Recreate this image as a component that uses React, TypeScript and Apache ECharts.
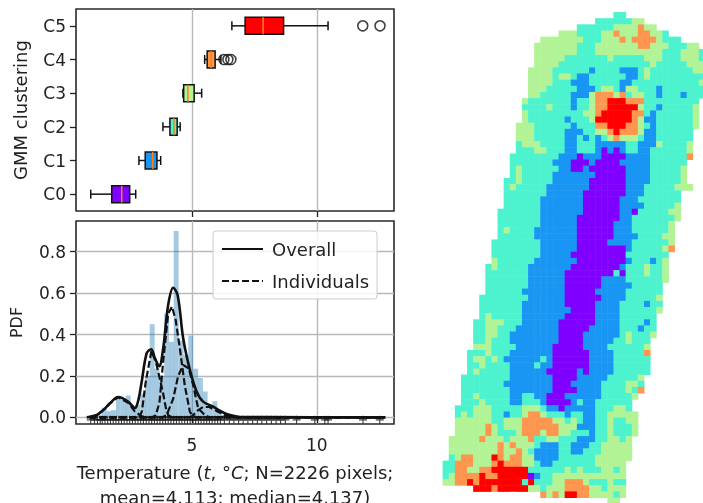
import React, { useEffect, useRef } from "react";
import * as echarts from "echarts";

const FONT = "DejaVu Sans";
const clusters = ["C0", "C1", "C2", "C3", "C4", "C5"];
const clusterColors = ["#8000ff", "#1996f3", "#4df3ce", "#b2f396", "#ff964f", "#ff0000"];
// cluster, low whisker, q1, median, q3, high whisker
const boxStats = [
  [0, 0.95, 1.79, 2.19, 2.51, 2.75],
  [1, 2.88, 3.13, 3.43, 3.6, 3.75],
  [2, 3.84, 4.12, 4.28, 4.41, 4.53],
  [3, 4.64, 4.67, 4.84, 5.09, 5.39],
  [4, 5.51, 5.61, 5.77, 5.93, 6.16],
  [5, 6.6, 7.13, 7.85, 8.67, 10.45],
];
const outliers = [[6.28, 4], [6.44, 4], [6.56, 4], [11.84, 5], [12.53, 5]];
const xTicks = [5, 10];
const yTicks = [0, 0.2, 0.4, 0.6, 0.8];
const histBars = [
  [1.1, 0.005], [1.3, 0.01], [1.49, 0.047], [1.68, 0.03], [1.87, 0.035], [2.06, 0.09], [2.26, 0.085],
  [2.45, 0.105], [2.64, 0.045], [2.83, 0.06], [3.03, 0.115], [3.22, 0.2], [3.41, 0.45], [3.6, 0.235],
  [3.8, 0.2], [3.99, 0.5], [4.18, 0.365], [4.37, 0.9], [4.57, 0.37], [4.76, 0.3], [4.95, 0.395],
  [5.15, 0.235], [5.34, 0.19], [5.53, 0.125], [5.72, 0.05], [5.92, 0.078], [6.11, 0.03], [6.3, 0.012],
];
const overall = [
  [0.79, 0], [0.92, 0.003], [1.19, 0.011], [1.45, 0.035], [1.72, 0.068], [2.05, 0.098], [2.45, 0.076],
  [2.72, 0.045], [2.85, 0.08], [2.99, 0.172], [3.19, 0.31], [3.37, 0.329], [3.52, 0.285], [3.69, 0.247],
  [3.85, 0.333], [4.05, 0.543], [4.25, 0.626], [4.43, 0.59], [4.65, 0.382], [4.92, 0.229], [5.19, 0.124],
  [5.45, 0.076], [5.85, 0.052], [6.19, 0.027], [6.52, 0.011], [6.92, 0.002], [8, 0.001], [12.75, 0],
];
const individuals = [
  [[0.95, 0.003], [1.2, 0.012], [1.45, 0.035], [1.72, 0.068], [2.05, 0.098], [2.45, 0.07], [2.72, 0.028], [3.0, 0.005], [3.2, 0], [12.7, 0]],
  [[0.9, 0], [2.8, 0], [2.9, 0.003], [3.0, 0.03], [3.15, 0.17], [3.38, 0.32], [3.55, 0.27], [3.69, 0.2], [3.84, 0.12], [3.95, 0.05], [4.05, 0.01], [4.2, 0], [12.7, 0]],
  [[0.9, 0], [3.4, 0], [3.55, 0.01], [3.7, 0.07], [3.85, 0.27], [4.05, 0.5], [4.2, 0.535], [4.35, 0.47], [4.52, 0.33], [4.72, 0.15], [4.92, 0.027], [5.05, 0.005], [5.2, 0], [12.7, 0]],
  [[0.9, 0], [3.8, 0], [3.99, 0.011], [4.25, 0.09], [4.45, 0.2], [4.65, 0.253], [4.87, 0.237], [5.05, 0.156], [5.25, 0.043], [5.52, 0.011], [5.7, 0], [12.7, 0]],
  [[0.9, 0], [4.9, 0], [5.0, 0.005], [5.25, 0.035], [5.45, 0.05], [5.7, 0.05], [6.0, 0.03], [6.3, 0.012], [6.6, 0.002], [6.9, 0], [12.7, 0]],
];
const rugValues = [
  0.95, 1.1, 1.22, 1.33, 1.41, 1.52, 1.63, 1.74, 1.85, 1.96, 2.07, 2.18, 2.29, 2.4, 2.51, 2.62, 2.73, 2.84, 2.95,
  3.06, 3.17, 3.28, 3.39, 3.5, 3.61, 3.72, 3.83, 3.94, 4.05, 4.16, 4.27, 4.38, 4.49, 4.6, 4.71, 4.82, 4.93, 5.04,
  5.15, 5.26, 5.37, 5.48, 5.59, 5.7, 5.81, 5.92, 6.03, 6.14, 6.3, 6.5, 6.68, 6.87, 7.05, 7.24, 7.43, 7.62, 7.8,
  7.99, 8.18, 8.37, 8.55, 8.74, 9.19, 9.92, 10.32, 10.45, 11.85, 12.52,
];
const legendNames = ["Overall", "Individuals"];
const mapCodes = "PBTGOR";
// Each row: first column, then <cluster letter><end column, exclusive>
const mapRows = [
  "28 T30", "25 T31 G33", "22 T28 G32 O33 G35", "19 G22 T26 G28 O29 G32 O34 G36 T37",
  "16 G23 T26 G29 O30 G31 O35 G36 T39", "15 G22 T25 G32 O34 G37 T40 G42",
  "15 G22 T25 G36 T39 G42 T43", "15 G20 T27 G28 T33 G36 T39 G42 T43", "15 G19 T34 G35 T40 G43",
  "14 G18 T24 B25 T29 B32 T33 G34 T41 G43", "14 G18 T19 G21 T22 B24 T30 B32 T33 G34 T43",
  "14 G18 T21 B24 T29 B31 T42 G43", "14 G17 T22 B25 T26 G28 T29 B30 G32 T35 B36 T43",
  "14 G16 T21 B24 G25 O28 G29 O30 T31 G33 T35 B36 T39 B40 T43", "13 G14 T21 B22 T24 G25 O27 R30 O33 T42",
  "13 T17 G18 T21 B22 T24 G25 O27 R32 G33 T35 B36 T41 G42", "13 G14 T23 G25 O26 R31 O33 T34 B35 T41 G42",
  "13 G14 T20 B21 T24 G25 R31 O32 G33 B35 T41 G42", "12 G15 T21 B22 T25 O27 R30 O32 G33 T34 B35 T41 G42",
  "12 G15 T20 B23 T25 G27 O28 R29 O32 G33 B35 T41", "12 G15 T20 B22 T23 B24 T25 B26 T27 G28 O29 G32 T33 B35 T41",
  "12 T13 G16 T20 B22 T25 B30 T32 B35 G36 T40 G41", "12 T15 G17 T20 B22 T25 B26 P27 B28 P29 B30 T32 B34 T40 G41",
  "11 T19 B22 P23 B26 P30 B34 T40 O41", "11 T18 B21 P24 B25 P29 B34 T40",
  "11 T12 G13 T19 B21 P23 B24 P30 B34 T39 G40", "11 T12 G13 T18 B25 P30 B34 T39 G40",
  "10 T12 G13 T18 B24 P30 B34 T39 G40", "10 T11 G12 T17 B24 P30 B33 T38 G41", "10 T17 B23 P30 B33 T39",
  "10 T16 B23 P29 B32 T39", "10 T16 B23 P29 B33 T38 G39", "9 T16 B23 P29 B31 P32 T37 G39",
  "9 T16 B22 P29 B31 T38 G39", "9 T16 B22 P28 B31 T37 G38", "9 T10 G11 T15 B22 P28 B31 T37 G38",
  "9 T15 B22 P28 B32 T36 G38", "8 T16 B22 P27 B31 T37 G38", "8 T16 B22 P30 B31 T36 G37 O38",
  "8 T16 B21 P30 T37", "8 G9 T15 B22 P30 B31 T34 B35 T36 G37", "7 T8 G9 T14 B21 P29 B30 T33 G34 T36 G37",
  "7 T14 B20 P28 T29 P30 T33 G34 T36 G37", "7 T14 B20 P26 B30 T36 G37", "7 T14 B20 P26 B31 T36",
  "7 T13 B20 P25 B30 T36", "6 T14 B20 P26 B30 T35 G36", "6 T13 B20 P25 B29 T33 B34 T36",
  "6 T13 B21 P25 B29 T35 G36", "6 T7 G8 T13 B20 P25 B29 T35", "5 T7 G10 T13 B19 P25 B29 T33 B34 T35",
  "5 T7 G9 T12 B19 P24 B29 T32 B33 T35", "5 T7 G9 T11 B19 P23 B29 T30 G31 T34 G35",
  "5 T7 G8 T11 B19 P23 B28 T30 G31 T34", "5 G8 T12 B18 P23 B27 T33 G34", "4 T7 G8 T11 B18 P24 B28 T33 O34",
  "4 T5 G7 T8 G9 T10 B16 T17 B18 P24 B28 T34", "4 T6 G7 T11 B15 T16 B18 P24 B28 T34",
  "4 T5 G6 T11 B17 P22 B23 P24 B28 T34", "3 T11 B18 P22 B27 T32 G33", "3 T10 B18 P21 B26 T30 G32 T33",
  "3 T11 B18 P22 B26 T30 G31 T32 O33", "3 T5 G6 T11 B13 T15 B17 P20 B26 T31 G32",
  "3 T6 G7 T11 B13 T16 B17 P21 B22 T23 B25 T31", "2 T5 G8 T13 G16 T17 B19 P20 B25 T28 G30 T31",
  "2 T3 G4 T5 G8 T10 B11 T13 G14 O16 G17 T20 B21 T23 B25 T27 G32",
  "2 G8 T10 G13 O18 G20 T21 G22 T23 B25 T27 G28 T30 G32", "2 G7 O8 G9 T10 G13 O19 G22 B25 T27 G28 T31 G32",
  "2 G7 O8 G9 T12 G13 O16 G17 O19 G21 T24 B25 T27 G28 T31 G32", "1 G6 O7 G10 T11 G14 O15 T17 G19 T22 B25 T27 G29 T30 G31",
  "1 G9 O10 G11 O12 G15 T16 B19 T21 B24 T26 G31", "1 G9 O10 G12 O13 G14 T15 B19 T21 B23 T26 G31",
  "1 T2 G3 O5 G8 R9 O10 G11 O13 G15 B19 T25 G31", "0 T2 O5 G8 O9 R10 O13 G15 T16 B18 T25 G30",
  "0 T2 O4 G6 O8 R14 T20 G21 T22 G23 T26 G28 T29 G30", "0 T1 G2 O6 R7 O9 R14 P15 B16 T18 G30",
  "0 G2 O4 R5 O6 R13 T14 R15 T18 G20 O23 G24 T27 G28 T30", "5 R8 O9 R14 G16 T17 G20 O24 G26 T27 G30",
  "16 O17 G18 O19 G20 R22 O24 G28 T29 G30", "27 G29",
];
const mapColumnCount = 43;

function decodeMap() {
  const cells: number[][] = [];
  mapRows.forEach((row, r) => {
    const parts = row.split(" ");
    let c = Number(parts[0]);
    parts.slice(1).forEach((p) => {
      const end = Number(p.slice(1));
      const code = mapCodes.indexOf(p[0]);
      for (; c < end; c++) cells.push([c, r, code]);
    });
  });
  return cells;
}

const INK = "#222222";
const GRID = "#b9b9b9";

function renderBox(_: any, api: any) {
  const cat = api.value(0);
  const color = clusterColors[cat];
  const pt = (v: number) => api.coord([v, cat]);
  const [xLo, y] = pt(api.value(1));
  const xQ1 = pt(api.value(2))[0];
  const xMed = pt(api.value(3))[0];
  const xQ3 = pt(api.value(4))[0];
  const xHi = pt(api.value(5))[0];
  const stroke = { stroke: "#111", lineWidth: 1.5, fill: "none" };
  const line = (x1: number, y1: number, x2: number, y2: number, style: any = stroke) => ({
    type: "line", shape: { x1, y1, x2, y2 }, style,
  });
  return {
    type: "group",
    children: [
      line(xLo, y, xQ1, y),
      line(xQ3, y, xHi, y),
      line(xLo, y - 4.5, xLo, y + 4.5),
      line(xHi, y - 4.5, xHi, y + 4.5),
      { type: "rect", shape: { x: xQ1, y: y - 8.5, width: xQ3 - xQ1, height: 17 }, style: { fill: color, stroke: "#111", lineWidth: 1.5 } },
      line(xMed, y - 8.5, xMed, y + 8.5, { stroke: "#ff7f0e", lineWidth: 1.5, fill: "none" }),
    ],
  };
}

const valueX = (gridIndex: number, labels: boolean) => ({
  type: "value", gridIndex, min: 0.36, max: 13.09,
  axisLine: { show: false },
  axisTick: { show: true, customValues: xTicks, length: 6, lineStyle: { color: INK, width: 1.3 } },
  axisLabel: { show: labels, customValues: xTicks, color: INK, fontSize: 17, fontFamily: FONT, margin: 12 },
  splitLine: { show: true, lineStyle: { color: GRID, width: 1.4 } },
});

export default function App() {
  const ref = useRef<HTMLDivElement>(null);
  useEffect(() => {
    const chart = echarts.init(ref.current!, undefined, { renderer: "svg" });
    const frame = { show: true, borderColor: "#2a2a2a", borderWidth: 1.6, backgroundColor: "transparent", outerBoundsMode: "none" };
    const option: any = {
      animation: false,
      textStyle: { fontFamily: FONT },
      grid: [
        { left: 76, top: 9, width: 318, height: 202, ...frame },
        { left: 76, top: 221, width: 318, height: 203, ...frame },
        { left: 442.9, top: 12.3, width: 262.3, height: 491.6, show: false, outerBoundsMode: "none" },
      ],
      xAxis: [
        valueX(0, false),
        {
          ...valueX(1, true),
          name: "{n|Temperature (}{i|t}{n|, °}{i|C}{n|; N=2226 pixels;}\n{n|mean=4.113; median=4.137)}",
          nameLocation: "middle",
          nameGap: 36,
          nameTextStyle: {
            lineHeight: 25,
            rich: {
              n: { fontSize: 18, fontFamily: FONT, color: INK, lineHeight: 25 },
              i: { fontSize: 18, fontFamily: FONT, fontStyle: "italic", color: INK, lineHeight: 25 },
            },
          },
        },
        { type: "category", gridIndex: 2, show: false, data: Array.from({ length: mapColumnCount }, (_, i) => i) },
      ],
      yAxis: [
        {
          type: "category", gridIndex: 0, data: clusters,
          name: "GMM clustering", nameLocation: "middle", nameGap: 47,
          nameTextStyle: { fontSize: 18, color: INK, fontFamily: FONT },
          axisLine: { show: false },
          axisTick: { show: true, alignWithLabel: true, length: 6, lineStyle: { color: INK, width: 1.3 } },
          axisLabel: { color: INK, fontSize: 17, fontFamily: FONT, margin: 10 },
          splitLine: { show: false },
        },
        {
          type: "value", gridIndex: 1, min: -0.032, max: 0.948,
          name: "PDF", nameLocation: "middle", nameGap: 52,
          nameTextStyle: { fontSize: 16, color: INK, fontFamily: FONT },
          axisLine: { show: false },
          axisTick: { show: true, customValues: yTicks, length: 6, lineStyle: { color: INK, width: 1.3 } },
          axisLabel: { customValues: yTicks, color: INK, fontSize: 17, fontFamily: FONT, margin: 10, formatter: (v: number) => v.toFixed(1) },
          splitLine: { show: true, lineStyle: { color: GRID, width: 1.4 } },
        },
        { type: "category", gridIndex: 2, show: false, inverse: true, data: mapRows.map((_, i) => i) },
      ],
      visualMap: {
        show: false, type: "piecewise", seriesIndex: 0, dimension: 2,
        pieces: clusterColors.map((color, value) => ({ value, color })),
      },
      legend: {
        orient: "vertical", left: 213, top: 231, data: legendNames, itemWidth: 41, itemHeight: 12, itemGap: 14,
        padding: [9, 8, 9, 8],
        backgroundColor: "rgba(255,255,255,0.85)", borderColor: "#cccccc", borderWidth: 1, borderRadius: 3,
        textStyle: { fontSize: 18, fontFamily: FONT, color: INK, padding: [0, 0, 0, 4] },
        itemStyle: { color: "transparent", borderWidth: 0, opacity: 0 },
        z: 20,
      },
      series: [
        { type: "heatmap", xAxisIndex: 2, yAxisIndex: 2, data: decodeMap(), silent: true },
        {
          type: "custom", xAxisIndex: 0, yAxisIndex: 0, data: boxStats, renderItem: renderBox, z: 3,
          encode: { x: [1, 2, 3, 4, 5], y: 0 },
        },
        {
          type: "scatter", xAxisIndex: 0, yAxisIndex: 0, data: outliers, symbol: "circle", symbolSize: 10, z: 3,
          itemStyle: { color: "transparent", borderColor: "#111", borderWidth: 1.6 },
        },
        {
          type: "bar", xAxisIndex: 1, yAxisIndex: 1, data: histBars, barWidth: 4.9, z: 2,
          itemStyle: { color: "rgba(31,119,180,0.4)" },
        },
        {
          type: "scatter", xAxisIndex: 1, yAxisIndex: 1, z: 4, symbolSize: 8,
          data: rugValues.map((v) => [v, -0.012]),
          symbol: "path://M4,0h1.4v4.3h4.3v1.4h-4.3v4.3h-1.4v-4.3h-4.3v-1.4h4.3z",
          itemStyle: { color: "#111" },
        },
        ...individuals.map((data) => ({
          type: "line", name: "Individuals", xAxisIndex: 1, yAxisIndex: 1, data, symbol: "none", z: 5,
          itemStyle: { color: "#111" },
          lineStyle: { color: "#111", width: 2.2, type: [7, 3] },
        })),
        {
          type: "line", name: "Overall", xAxisIndex: 1, yAxisIndex: 1, data: overall, symbol: "none", smooth: 0.35, z: 6,
          itemStyle: { color: "#111" },
          lineStyle: { color: "#111", width: 2.6 },
        },
      ],
    };
    chart.setOption(option);
    return () => chart.dispose();
  }, []);
  return <div ref={ref} style={{ position: "absolute", left: 0, top: 0, width: 703, height: 503, background: "#fff", filter: "blur(0.45px)" }} />;
}
